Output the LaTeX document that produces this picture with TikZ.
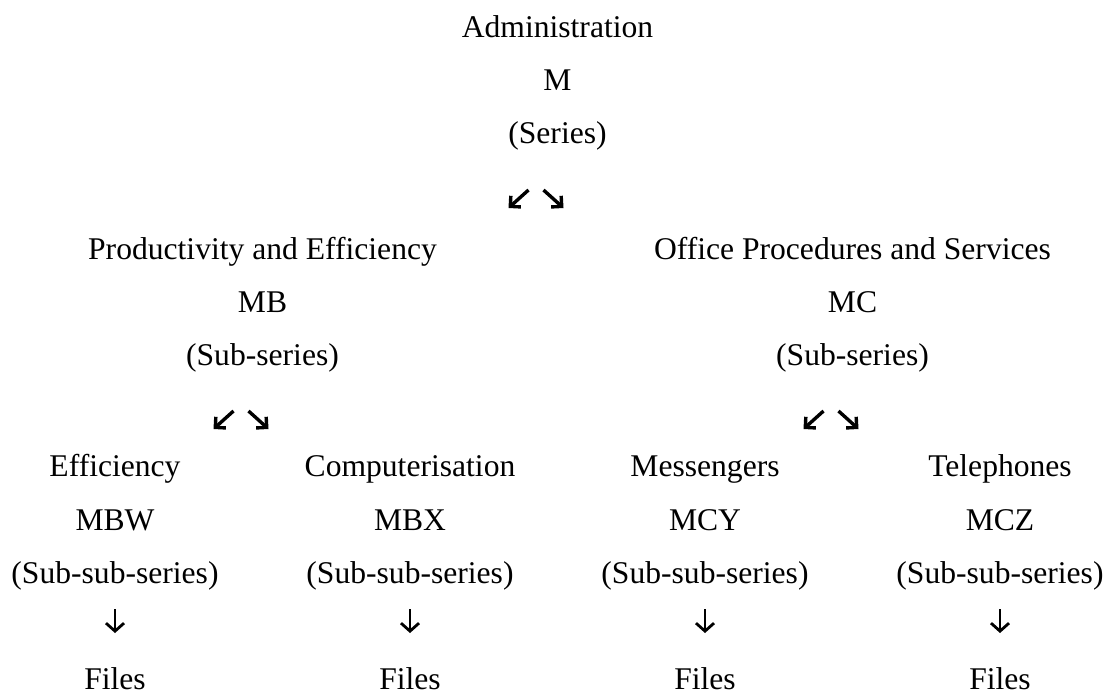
\documentclass[tikz,border=0pt]{standalone}
\usepackage{fontspec}
\setmainfont{Liberation Serif}
\usetikzlibrary{arrows.meta}

\tikzset{
  lbl/.style={anchor=base, inner sep=0pt, font=\fontsize{31.6}{38}\selectfont},
  diagarrow/.style={line width=3.4pt, line cap=butt,
    -{Straight Barb[length=7.5pt, width=15pt, line cap=butt, line join=miter]}},
  downarrow/.style={line width=2.8pt, line cap=butt,
    -{Straight Barb[length=8pt, width=18pt, line cap=butt, line join=miter]}}
}

\begin{document}
\begin{tikzpicture}[x=1pt, y=-1pt]
  \useasboundingbox (0,0) rectangle (1113,695);

  % Series level
  \node[lbl] (adm) at (557.5,38) {Administration};
  \node[lbl] (m)   at (557.5,91) {M};
  \node[lbl] (ser) at (557.5,144) {(Series)};
  \coordinate (sA1) at (528.5,190);  \coordinate (sA2) at (508.5,208);
  \coordinate (sB1) at (543.5,190);  \coordinate (sB2) at (563.5,208);
  \draw[diagarrow] (sA1) -- (sA2);
  \draw[diagarrow] (sB1) -- (sB2);

  % Sub-series level
  \foreach \c/\t/\k/\n in {262.5/Productivity and Efficiency/MB/b,
                           852.5/Office Procedures and Services/MC/c}{
    \node[lbl] (t\n) at (\c,259) {\t};
    \node[lbl] (k\n) at (\c,312) {\k};
    \node[lbl] (s\n) at (\c,365) {(Sub-series)};
    \coordinate (a\n1) at (\c-29,411); \coordinate (a\n2) at (\c-49,429);
    \coordinate (b\n1) at (\c-14,411); \coordinate (b\n2) at (\c+6,429);
    \draw[diagarrow] (a\n1) -- (a\n2);
    \draw[diagarrow] (b\n1) -- (b\n2);
  }

  % Sub-sub-series level
  \foreach \c/\t/\k/\n in {115/Efficiency/MBW/w, 410/Computerisation/MBX/x,
                           705/Messengers/MCY/y, 1000/Telephones/MCZ/z}{
    \node[lbl] (t\n) at (\c,476) {\t};
    \node[lbl] (k\n) at (\c,530) {\k};
    \node[lbl] (s\n) at (\c,583) {(Sub-sub-series)};
    \coordinate (d\n1) at (\c,609); \coordinate (d\n2) at (\c,633);
    \draw[downarrow] (d\n1) -- (d\n2);
    \node[lbl] (f\n) at (\c,689) {Files};
  }
\end{tikzpicture}
\end{document}
